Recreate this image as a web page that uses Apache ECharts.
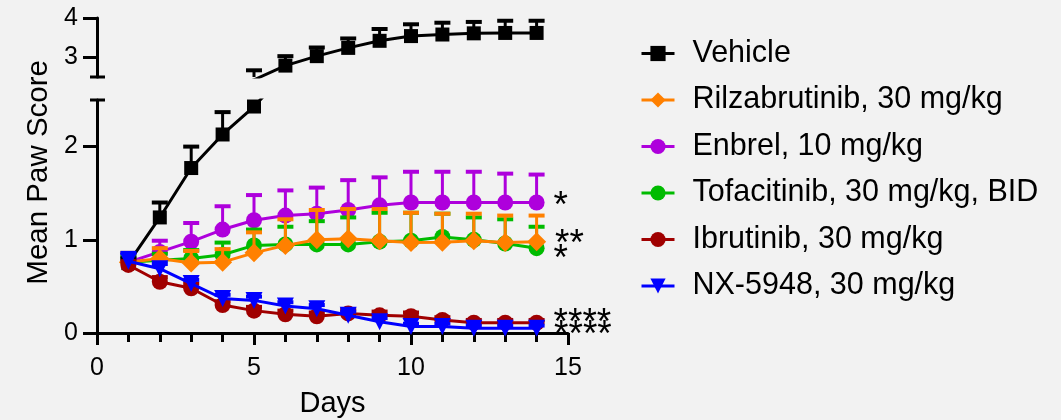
<!DOCTYPE html>
<html>
<head>
<meta charset="utf-8">
<script src="https://cdn.jsdelivr.net/npm/echarts@6/dist/echarts.min.js"></script>
<style>
  html, body { margin: 0; padding: 0; background: #f2f2f2; }
  #chart { width: 1061px; height: 420px; }
</style>
</head>
<body>
<div id="chart"></div>
<script>
// Collagen-induced arthritis: mean paw score by day of dosing (mean + SEM)
const days = [1, 2, 3, 4, 5, 6, 7, 8, 9, 10, 11, 12, 13, 14];

const vehicle    = [0.75, 1.24, 1.77, 2.13, 2.43, 2.79, 3.03, 3.24, 3.42, 3.54, 3.58, 3.61, 3.62, 3.62];
const vehicleErr = [0.05, 0.16, 0.23, 0.24, 0.24, 0.24, 0.22, 0.24, 0.30, 0.30, 0.30, 0.29, 0.31, 0.31];

const rilza    = [0.76, 0.80, 0.75, 0.76, 0.86, 0.94, 1.00, 1.01, 0.99, 0.97, 0.975, 0.99, 0.97, 0.98];
const rilzaErr = [0.10, 0.11, 0.13, 0.14, 0.22, 0.28, 0.32, 0.32, 0.34, 0.32, 0.305, 0.29, 0.29, 0.28];

const enbrel    = [0.76, 0.87, 0.98, 1.11, 1.21, 1.26, 1.28, 1.32, 1.37, 1.40, 1.40, 1.40, 1.40, 1.40];
const enbrelErr = [0.06, 0.12, 0.20, 0.25, 0.27, 0.27, 0.28, 0.32, 0.30, 0.33, 0.33, 0.33, 0.31, 0.30];

const tofa    = [0.76, 0.78, 0.80, 0.84, 0.94, 0.95, 0.95, 0.95, 0.98, 0.99, 1.03, 1.00, 0.96, 0.91];
const tofaErr = [0.06, 0.07, 0.09, 0.13, 0.17, 0.19, 0.25, 0.29, 0.31, 0.30, 0.25, 0.24, 0.26, 0.23];

const ibru    = [0.73, 0.55, 0.48, 0.30, 0.24, 0.20, 0.18, 0.21, 0.19, 0.18, 0.14, 0.11, 0.11, 0.11];
const ibruErr = [0.04, 0.05, 0.05, 0.04, 0.04, 0.04, 0.04, 0.04, 0.04, 0.04, 0.03, 0.03, 0.03, 0.03];

const nx    = [0.77, 0.69, 0.53, 0.37, 0.35, 0.29, 0.26, 0.19, 0.12, 0.07, 0.07, 0.05, 0.05, 0.05];
const nxErr = [0.09, 0.05, 0.04, 0.04, 0.04, 0.04, 0.04, 0.04, 0.04, 0.03, 0.03, 0.03, 0.03, 0.03];

const seriesNames = [
  'Vehicle',
  'Rilzabrutinib, 30 mg/kg',
  'Enbrel, 10 mg/kg',
  'Tofacitinib, 30 mg/kg, BID',
  'Ibrutinib, 30 mg/kg',
  'NX-5948, 30 mg/kg'
];
// significance vs vehicle at day 14
const significance = ['', '**', '*', '*', '****', '****'];

// y axis break: lower panel 0–2.5, upper panel 2.5–4
const breakValue = 2.5;
const lowerTicks = [0, 1, 2];
const upperTicks = [3, 4];

const FONT = "'Liberation Sans', Arial, Helvetica, sans-serif";

// drawing styles per group (z order low -> high)
const groups = [
  { name: seriesNames[2], values: enbrel,  errs: enbrelErr,  color: '#ae00dc', symbol: 'circle',   size: 16, rotate: 0,   z: 2,  sigOffset: [0, 4] },
  { name: seriesNames[3], values: tofa,    errs: tofaErr,    color: '#00bb00', symbol: 'circle',   size: 16, rotate: 0,   z: 4,  sigOffset: [0, 12] },
  { name: seriesNames[1], values: rilza,   errs: rilzaErr,   color: '#ff8000', symbol: 'diamond',  size: 19, rotate: 0,   z: 6,  sigOffset: [0, 3] },
  { name: seriesNames[0], values: vehicle, errs: vehicleErr, color: '#000000', symbol: 'rect',     size: 14, rotate: 0,   z: 8,  sigOffset: [0, 0], both: true },
  { name: seriesNames[4], values: ibru,    errs: ibruErr,    color: '#a00000', symbol: 'circle',   size: 16, rotate: 0,   z: 10, sigOffset: [0, 1] },
  { name: seriesNames[5], values: nx,      errs: nxErr,      color: '#0000ff', symbol: 'triangle', size: 17, rotate: 180, z: 12, sigOffset: [0, 7] }
];

function sigFor(name) {
  return significance[seriesNames.indexOf(name)];
}

function lineData(g) {
  const sig = sigFor(g.name);
  return days.map(function (d, i) {
    const item = { value: [d, g.values[i]] };
    if (i === days.length - 1 && sig) {
      item.label = {
        show: true,
        position: 'right',
        distance: 9,
        formatter: sig,
        fontFamily: FONT,
        fontSize: 37,
        color: '#000',
        offset: g.sigOffset
      };
    }
    return item;
  });
}

function errData(g) {
  return days.map(function (d, i) { return [d, g.values[i], g.errs[i]]; });
}

function errRenderer(color) {
  return function (params, api) {
    const x = api.value(0), y = api.value(1), e = api.value(2);
    const base = api.coord([x, y]);
    const top = api.coord([x, y + e]);
    const half = 8;
    return {
      type: 'group',
      children: [
        { type: 'line', shape: { x1: base[0], y1: base[1], x2: top[0], y2: top[1] },
          style: { stroke: color, lineWidth: 3 } },
        { type: 'line', shape: { x1: top[0] - half, y1: top[1], x2: top[0] + half, y2: top[1] },
          style: { stroke: color, lineWidth: 4 } }
      ]
    };
  };
}

function lineSeries(g, panel) {
  return {
    type: 'line',
    name: g.name,
    xAxisIndex: panel, yAxisIndex: panel,
    data: lineData(g),
    symbol: g.symbol,
    symbolSize: g.size,
    symbolRotate: g.rotate,
    showAllSymbol: true,
    clip: true,
    z: g.z + 1,
    lineStyle: { color: g.color, width: 3 },
    itemStyle: { color: g.color },
    emphasis: { disabled: true },
    animation: false
  };
}

function errSeries(g, panel) {
  return {
    type: 'custom',
    name: g.name + ' SEM',
    xAxisIndex: panel, yAxisIndex: panel,
    data: errData(g),
    renderItem: errRenderer(g.color),
    clip: true,
    silent: true,
    z: g.z,
    animation: false
  };
}

// short horizontal marks where the y axis is broken
function breakSeries(panel) {
  return {
    type: 'custom',
    name: 'axis break ' + panel,
    xAxisIndex: panel, yAxisIndex: panel,
    data: [[0, breakValue]],
    clip: false,
    silent: true,
    z: 20,
    animation: false,
    renderItem: function (params, api) {
      const p = api.coord([api.value(0), api.value(1)]);
      return { type: 'line', shape: { x1: p[0] - 7, y1: p[1], x2: p[0] + 8, y2: p[1] },
               style: { stroke: '#000', lineWidth: 3 } };
    }
  };
}

const series = [];
groups.forEach(function (g) {
  series.push(lineSeries(g, 0));
  if (g.both) series.push(lineSeries(g, 1));
});
groups.forEach(function (g) {
  series.push(errSeries(g, 0));
  if (g.both) series.push(errSeries(g, 1));
});
series.push(breakSeries(0), breakSeries(1));

const axisLineStyle = { color: '#000', width: 3 };
const labelStyle = { color: '#000', fontFamily: FONT, fontSize: 25 };

const option = {
  backgroundColor: '#f2f2f2',
  animation: false,
  textStyle: { fontFamily: FONT },
  grid: [
    { left: 97, right: 493, top: 100, bottom: 87, outerBoundsMode: 'none', containLabel: false },
    { left: 97, right: 493, top: 18, height: 59, outerBoundsMode: 'none', containLabel: false }
  ],
  xAxis: [
    {
      type: 'value', gridIndex: 0, min: 0, max: 15, interval: 5,
      name: 'Days', nameLocation: 'middle', nameGap: 56,
      nameTextStyle: { color: '#000', fontFamily: FONT, fontSize: 29 },
      axisLine: { show: true, onZero: false, lineStyle: axisLineStyle },
      axisTick: { show: true, length: 12, lineStyle: axisLineStyle },
      minorTick: { show: true, splitNumber: 5, length: 9, lineStyle: axisLineStyle },
      splitLine: { show: false },
      axisLabel: Object.assign({ margin: 23 }, labelStyle)
    },
    {
      type: 'value', gridIndex: 1, min: 0, max: 15, interval: 5, show: false
    }
  ],
  yAxis: [
    {
      type: 'value', gridIndex: 0, min: 0, max: breakValue, interval: 0.5,
      axisLine: { show: true, onZero: false, lineStyle: axisLineStyle },
      axisTick: { show: true, length: 14, lineStyle: axisLineStyle, customValues: lowerTicks },
      axisLabel: Object.assign({ margin: 19, customValues: lowerTicks }, labelStyle),
      splitLine: { show: false }
    },
    {
      type: 'value', gridIndex: 1, min: breakValue, max: 4, interval: 0.5,
      axisLine: { show: true, onZero: false, lineStyle: axisLineStyle },
      axisTick: { show: true, length: 14, lineStyle: axisLineStyle, customValues: upperTicks },
      axisLabel: Object.assign({ margin: 19, customValues: upperTicks }, labelStyle),
      splitLine: { show: false }
    }
  ],
  legend: {
    orient: 'vertical',
    left: 640,
    top: 38,
    padding: 0,
    itemWidth: 33,
    itemHeight: 19,
    itemGap: 15.5,
    data: seriesNames,
    selectedMode: false,
    lineStyle: { width: 3 },
    textStyle: { color: '#000', fontFamily: FONT, fontSize: 30.5, padding: [0, 0, 0, 13] }
  },
  graphic: [
    {
      type: 'text',
      left: 24,
      top: 60,
      rotation: Math.PI / 2,
      style: { text: 'Mean Paw Score', fill: '#000', font: '29.5px ' + FONT },
      silent: true
    }
  ],
  series: series
};

const chart = echarts.init(document.getElementById('chart'), null, { renderer: 'canvas' });
chart.setOption(option);
</script>
</body>
</html>
